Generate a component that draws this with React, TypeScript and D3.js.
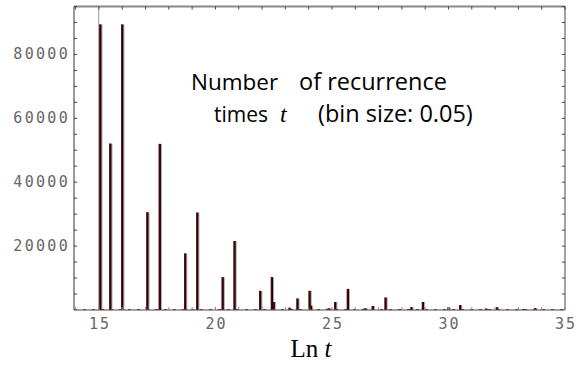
import React from "react";
import * as d3 from "d3";

// Bin left edges (ln t) and counts for the dark histogram
const binLn: number[] = [
  15.06, 15.49, 16.0, 17.08, 17.61, 18.7, 19.22, 20.31, 20.82, 21.92, 22.42, 22.5,
  23.18, 23.52, 24.04, 24.1, 24.8, 24.88, 25.14, 25.68, 26.36, 26.44, 26.75, 27.3,
  28.41, 28.9, 30.0, 30.5, 31.62, 32.08, 33.22, 33.72, 34.84,
];
const binCount: number[] = [
  89400, 52100, 89400, 30600, 52000, 17700, 30500, 10300, 21600, 6000, 10300, 2500,
  700, 3600, 6000, 1350, 400, 500, 2500, 6600, 400, 500, 1250, 3900,
  900, 2500, 800, 1550, 450, 850, 300, 600, 300,
];
// Light series (exceeds the plot range)
const grayLn: number[] = [14.99];
const grayCount: number[] = [120000];

const yTickLabels: number[] = [20000, 40000, 60000, 80000];
const xTickLabels: number[] = [15, 20, 25, 30, 35];

const W = 576, H = 365;
const L = 74, R = 565, T = 6.5, B = 310;

export default function App() {
  const x = d3.scaleLinear().domain([13.93, 35]).range([L, R]);
  const y = d3.scaleLinear().domain([0, 95000]).range([B, T]);
  const minorY = d3.range(5000, 95001, 5000);
  const minorX = d3.range(14, 35.01, 1);
  const monoFont = "'DejaVu Sans Mono', monospace";
  const sans = "'Open Sans', sans-serif";

  return (
    <svg width={W} height={H} style={{ position: "absolute", left: 0, top: 0, background: "#fff" }}>
      <defs>
        <clipPath id="plotclip">
          <rect x={L} y={T} width={R - L} height={B - T} />
        </clipPath>
      </defs>
      <rect x={0} y={0} width={W} height={H} fill="#fff" />
      <g clipPath="url(#plotclip)">
        {grayLn.map((v, i) => (
          <line key={"g" + i} x1={x(v)} x2={x(v)} y1={y(0)} y2={y(grayCount[i])} stroke="#999" strokeWidth={1} />
        ))}
        {binLn.map((v, i) => {
          const cx = x(v);
          const top = y(binCount[i]);
          return (
            <g key={"b" + i}>
              <rect x={cx + 1.2} y={top} width={1} height={B - top} fill="#b0b0b0" />
              <rect x={cx - 1} y={top} width={2.2} height={B - top} fill="#1c0303" />
              <rect x={cx - 1} y={top} width={0.8} height={B - top} fill="#6a0a0a" />
            </g>
          );
        })}
      </g>
      {/* red baseline */}
      <line x1={L} x2={R} y1={B - 0.5} y2={B - 0.5} stroke="#d42020" strokeWidth={1} strokeDasharray="3 6" />
      {/* frame */}
      <line x1={L} x2={R} y1={T} y2={T} stroke="#888" strokeWidth={1.8} />
      <line x1={L} x2={L} y1={T} y2={B} stroke="#333" strokeWidth={1} />
      <line x1={R} x2={R} y1={T} y2={B} stroke="#444" strokeWidth={1} />
      <line x1={L} x2={R} y1={B} y2={B} stroke="#444" strokeWidth={1} />
      {/* y ticks */}
      {minorY.map((v) => (
        <g key={"yt" + v}>
          <line x1={L} x2={L + 3} y1={y(v)} y2={y(v)} stroke="#444" strokeWidth={1} />
          <line x1={R} x2={R - 3} y1={y(v)} y2={y(v)} stroke="#444" strokeWidth={1} />
        </g>
      ))}
      {/* x ticks */}
      {minorX.map((v) => (
        <g key={"xt" + v}>
          <line x1={x(v)} x2={x(v)} y1={T} y2={T + 3} stroke="#444" strokeWidth={1} />
          <line x1={x(v)} x2={x(v)} y1={B} y2={B - 3} stroke="#888" strokeWidth={1} />
        </g>
      ))}
      {yTickLabels.map((v) => (
        <text key={"yl" + v} x={70} y={y(v) + 5} textAnchor="end" fontFamily={monoFont} fontSize={15}
          fill="#666" letterSpacing={2.3}>{String(v)}</text>
      ))}
      {xTickLabels.map((v) => (
        <text key={"xl" + v} x={x(v) + 1} y={329} textAnchor="middle" fontFamily={monoFont} fontSize={15}
          fill="#666" letterSpacing={2}>{String(v)}</text>
      ))}
      <text x={311} y={357} textAnchor="middle" fontFamily="'Liberation Serif', serif" fontSize={25} fill="#000">
        Ln <tspan fontStyle="italic">t</tspan>
      </text>
      <text x={191} y={90} fontFamily={sans} fontSize={22.5} fill="#000">Number</text>
      <text x={299} y={90} fontFamily={sans} fontSize={23.5} fill="#000">of recurrence</text>
      <text x={214} y={122} fontFamily={sans} fontSize={21} fill="#000">times</text>
      <text x={280} y={122} fontFamily="'Liberation Serif', serif" fontStyle="italic" fontSize={24} fill="#000">t</text>
      <text x={318} y={122} fontFamily={sans} fontSize={23.5} fill="#000">(bin size: 0.05)</text>
    </svg>
  );
}
